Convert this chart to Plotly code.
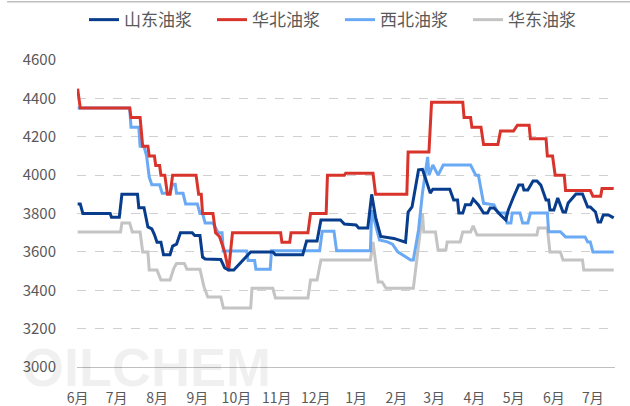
import plotly.graph_objects as go

# ---------------- data ----------------
sd_dates = ["2023-06-01", "2023-06-03", "2023-06-05", "2023-06-26", "2023-06-27", "2023-07-03", "2023-07-05",
            "2023-07-17", "2023-07-18", "2023-07-22", "2023-07-25", "2023-07-28", "2023-07-30", "2023-08-01",
            "2023-08-04", "2023-08-06", "2023-08-11", "2023-08-13", "2023-08-16", "2023-08-19", "2023-08-28",
            "2023-08-30", "2023-09-03", "2023-09-05", "2023-09-07", "2023-09-19", "2023-09-22", "2023-09-25",
            "2023-09-29", "2023-10-08", "2023-10-12", "2023-10-29", "2023-10-31", "2023-11-21", "2023-11-24",
            "2023-12-02", "2023-12-05", "2023-12-20", "2023-12-23", "2024-01-01", "2024-01-03", "2024-01-10",
            "2024-01-13", "2024-01-16", "2024-01-20", "2024-01-30", "2024-02-06", "2024-02-08", "2024-02-10",
            "2024-02-13", "2024-02-18", "2024-02-21", "2024-02-23", "2024-02-27", "2024-02-29", "2024-03-13",
            "2024-03-16", "2024-03-19", "2024-03-20", "2024-03-23", "2024-03-25", "2024-03-29", "2024-03-31",
            "2024-04-04", "2024-04-08", "2024-04-11", "2024-04-13", "2024-04-16", "2024-04-19", "2024-04-21",
            "2024-04-25", "2024-04-27", "2024-05-01", "2024-05-05", "2024-05-08", "2024-05-09", "2024-05-12",
            "2024-05-16", "2024-05-19", "2024-05-22", "2024-05-26", "2024-05-28", "2024-05-29", "2024-06-01",
            "2024-06-04", "2024-06-08", "2024-06-10", "2024-06-12", "2024-06-18", "2024-06-23", "2024-06-27",
            "2024-06-29", "2024-07-03", "2024-07-05", "2024-07-07", "2024-07-09", "2024-07-13", "2024-07-17"]
sd_vals = [3850, 3850, 3800, 3800, 3780, 3780, 3900,
           3900, 3830, 3830, 3730, 3720, 3690, 3650,
           3650, 3585, 3585, 3630, 3640, 3700, 3700,
           3685, 3685, 3573, 3563, 3560, 3516, 3505,
           3505, 3573, 3600, 3600, 3585, 3585, 3657,
           3657, 3766, 3766, 3745, 3740, 3725, 3725,
           3900, 3780, 3680, 3670, 3652, 3650, 3808,
           3834, 4027, 4030, 3990, 3906, 3927, 3927,
           3870, 3870, 3802, 3802, 3845, 3845, 3875,
           3845, 3802, 3802, 3829, 3829, 3808, 3792,
           3766, 3818, 3886, 3948, 3948, 3922, 3922,
           3969, 3969, 3948, 3870, 3870, 3818, 3818,
           3881, 3808, 3808, 3855, 3902, 3902, 3834,
           3834, 3808, 3756, 3756, 3792, 3792, 3777]

hb_dates = ["2023-06-01", "2023-06-03", "2023-07-11", "2023-07-12", "2023-07-19", "2023-07-21", "2023-07-25",
            "2023-07-26", "2023-07-30", "2023-07-31", "2023-08-03", "2023-08-04", "2023-08-07", "2023-08-09",
            "2023-08-11", "2023-08-13", "2023-08-31", "2023-09-02", "2023-09-04", "2023-09-05", "2023-09-13",
            "2023-09-15", "2023-09-18", "2023-09-22", "2023-09-25", "2023-09-28", "2023-11-04", "2023-11-05",
            "2023-11-11", "2023-11-12", "2023-11-25", "2023-11-27", "2023-12-09", "2023-12-10", "2023-12-23",
            "2023-12-24", "2024-01-14", "2024-01-16", "2024-02-09", "2024-02-10", "2024-02-26", "2024-02-28",
            "2024-03-23", "2024-03-24", "2024-03-29", "2024-03-30", "2024-04-06", "2024-04-08", "2024-04-19",
            "2024-04-21", "2024-05-01", "2024-05-04", "2024-05-13", "2024-05-14", "2024-05-26", "2024-05-27",
            "2024-05-31", "2024-06-02", "2024-06-09", "2024-06-10", "2024-06-29", "2024-07-01", "2024-07-07",
            "2024-07-08", "2024-07-17"]
hb_vals = [4450, 4350, 4350, 4300, 4300, 4150, 4150,
           4100, 4100, 4050, 4050, 4000, 4000, 3900,
           3900, 4000, 4000, 3900, 3900, 3800, 3800,
           3700, 3680, 3600, 3500, 3700, 3700, 3650,
           3650, 3700, 3700, 3800, 3800, 4000, 4000,
           4010, 4010, 3900, 3900, 4120, 4120, 4380,
           4380, 4300, 4300, 4250, 4250, 4160, 4160,
           4230, 4230, 4260, 4260, 4190, 4190, 4100,
           4100, 4000, 4000, 3920, 3920, 3890, 3890,
           3930, 3930]

xb_dates = ["2023-06-01", "2023-07-11", "2023-07-12", "2023-07-18", "2023-07-19", "2023-07-22", "2023-07-24",
            "2023-07-26", "2023-07-28", "2023-08-03", "2023-08-05", "2023-08-11", "2023-08-13", "2023-08-15",
            "2023-08-16", "2023-08-21", "2023-08-23", "2023-09-01", "2023-09-03", "2023-09-05", "2023-09-07",
            "2023-09-13", "2023-09-17", "2023-09-20", "2023-09-21", "2023-10-09", "2023-10-10", "2023-10-15",
            "2023-10-16", "2023-10-27", "2023-10-28", "2023-12-04", "2023-12-06", "2023-12-15", "2023-12-17",
            "2024-01-12", "2024-01-13", "2024-01-19", "2024-01-25", "2024-01-29", "2024-02-02", "2024-02-12",
            "2024-02-14", "2024-02-18", "2024-02-21", "2024-02-25", "2024-02-26", "2024-02-29", "2024-03-04",
            "2024-03-08", "2024-03-29", "2024-04-02", "2024-04-04", "2024-04-08", "2024-04-16", "2024-04-19",
            "2024-04-25", "2024-04-26", "2024-04-29", "2024-04-30", "2024-05-06", "2024-05-08", "2024-05-12",
            "2024-05-14", "2024-05-27", "2024-05-28", "2024-06-06", "2024-06-10", "2024-06-25", "2024-06-27",
            "2024-06-29", "2024-07-01", "2024-07-17"]
xb_vals = [4350, 4350, 4250, 4250, 4150, 4150, 4100,
           3990, 3950, 3950, 3905, 3905, 3953, 3953,
           3905, 3905, 3850, 3850, 3800, 3800, 3750,
           3750, 3700, 3700, 3604, 3604, 3555, 3555,
           3510, 3510, 3606, 3606, 3708, 3708, 3606,
           3606, 3818, 3662, 3652, 3640, 3600, 3558,
           3558, 3714, 3906, 4095, 4000, 4053, 4000,
           4053, 4053, 4000, 4000, 3853, 3845, 3802,
           3802, 3750, 3750, 3802, 3802, 3750, 3750,
           3802, 3802, 3705, 3705, 3678, 3678, 3652,
           3652, 3600, 3600]

hd_dates = ["2023-06-01", "2023-07-04", "2023-07-05", "2023-07-11", "2023-07-13", "2023-07-19", "2023-07-21",
            "2023-07-25", "2023-07-26", "2023-08-01", "2023-08-04", "2023-08-11", "2023-08-14", "2023-08-16",
            "2023-08-22", "2023-08-24", "2023-09-03", "2023-09-06", "2023-09-09", "2023-09-19", "2023-09-21",
            "2023-10-12", "2023-10-13", "2023-10-29", "2023-10-31", "2023-11-25", "2023-11-27", "2023-12-02",
            "2023-12-05", "2024-01-12", "2024-01-14", "2024-01-18", "2024-01-21", "2024-01-24", "2024-02-14",
            "2024-02-19", "2024-02-21", "2024-02-22", "2024-03-02", "2024-03-04", "2024-03-10", "2024-03-11",
            "2024-03-21", "2024-03-23", "2024-03-29", "2024-03-31", "2024-04-03", "2024-05-19", "2024-05-20",
            "2024-05-27", "2024-05-29", "2024-06-06", "2024-06-08", "2024-06-23", "2024-06-24", "2024-07-17"]
hd_vals = [3704, 3704, 3750, 3750, 3704, 3704, 3600,
           3600, 3505, 3505, 3453, 3453, 3516, 3540,
           3540, 3510, 3510, 3420, 3365, 3365, 3308,
           3308, 3410, 3410, 3360, 3360, 3453, 3453,
           3558, 3558, 3652, 3443, 3443, 3410, 3410,
           3678, 3802, 3704, 3704, 3610, 3610, 3652,
           3652, 3704, 3704, 3735, 3688, 3688, 3724,
           3724, 3600, 3600, 3558, 3558, 3505, 3505]

series_names = ["山东油浆", "华北油浆", "西北油浆", "华东油浆"]
series_colors = ["#083C8C", "#D9342B", "#6AA9F4", "#C4C4C4"]

# ---------------- figure ----------------
fig = go.Figure()
traces = []
for name, color, xs, ys in zip(series_names, series_colors,
                               [sd_dates, hb_dates, xb_dates, hd_dates],
                               [sd_vals, hb_vals, xb_vals, hd_vals]):
    traces.append(go.Scatter(x=xs, y=ys, name=name, mode="lines",
                             line=dict(color=color, width=3)))
# grey drawn first (behind), dark blue on top; legend reversed to keep original order
for t in reversed(traces):
    fig.add_trace(t)

fig.update_layout(
    width=630, height=406,
    margin=dict(l=77, r=15, t=60, b=39, autoexpand=False),
    plot_bgcolor="white", paper_bgcolor="white",
    font=dict(family="Noto Sans CJK SC, Liberation Sans, sans-serif", color="#595959"),
    showlegend=True,
    legend=dict(orientation="h", x=0.013, xanchor="left", y=1.13, yanchor="middle",
                font=dict(size=17, color="#595959"), traceorder="reversed",
                itemwidth=30, entrywidth=83, bgcolor="rgba(0,0,0,0)"),
)

fig.update_xaxes(
    type="date",
    range=["2023-05-31 12:00", "2024-07-18"],
    tick0="2023-06-01", dtick="M1", tickformat="%-m月",
    showgrid=False,
    showline=True, linecolor="#BFBFBF", linewidth=1,
    ticks="", tickfont=dict(size=14, color="#595959"),
    ticklabelstandoff=18,
)
fig.update_yaxes(
    range=[3000, 4600], dtick=200,
    showgrid=True, gridcolor="#D0D0D0", griddash="dash", gridwidth=1,
    zeroline=False, showline=False,
    tickfont=dict(size=15, color="#595959"),
    ticklabelstandoff=20,
)

# watermark
fig.add_annotation(text="<b>OILCHEM</b>", xref="paper", yref="paper",
                   x=0.13, y=0.0, xanchor="center", yanchor="middle",
                   showarrow=False,
                   font=dict(size=54, color="rgba(0,0,0,0.06)", family="Liberation Sans, Arial, sans-serif"))

# top chart border
fig.add_shape(type="line", xref="paper", yref="paper",
              x0=-0.13, x1=1.03, y0=1.19, y1=1.19,
              line=dict(color="#BFBFBF", width=1.5))

fig.write_html("out.html", config={"displayModeBar": False},
               post_script="document.body.style.margin='0px';")
